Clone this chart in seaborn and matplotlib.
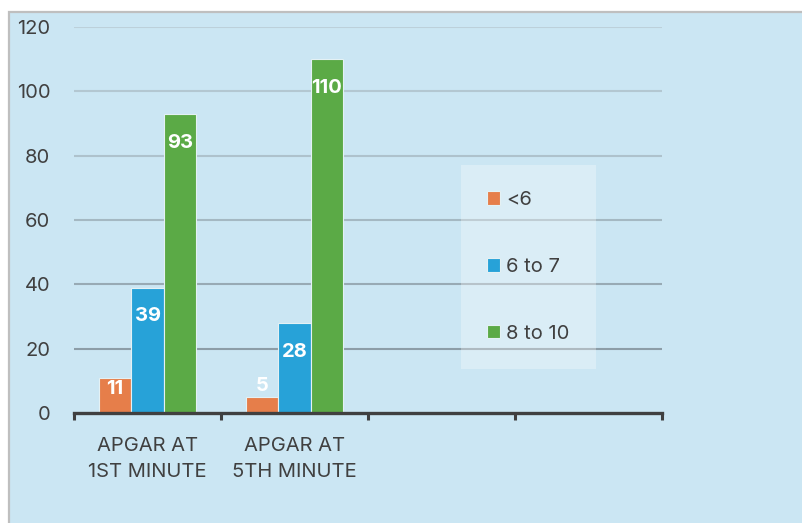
import matplotlib
matplotlib.use("Agg")
import matplotlib.pyplot as plt
from matplotlib.patches import Rectangle
import seaborn as sns
import pandas as pd

# Apgar score distribution
categories = ["APGAR AT\n1ST MINUTE", "APGAR AT\n5TH MINUTE"]
score_groups = ["<6", "6 to 7", "8 to 10"]
first_minute = [11, 39, 93]
fifth_minute = [5, 28, 110]
y_ticks = [0, 20, 40, 60, 80, 100, 120]

palette = ["#E67E4A", "#27A2D8", "#5BAA46"]
bg = "#CBE6F3"
text_color = "#404040"
n_slots = 4
fs = 14.5

df = pd.DataFrame({
    "category": [categories[0]] * 3 + [categories[1]] * 3,
    "group": score_groups * 2,
    "value": first_minute + fifth_minute,
})

sns.set_theme(style="white")
plt.rcParams["font.family"] = ["Inter", "DejaVu Sans"]

W, H = 803, 523
fig = plt.figure(figsize=(W / 100, H / 100), dpi=100)
fig.patch.set_facecolor("white")
fig.add_artist(Rectangle((9 / W, -0.05), 1.2, (H - 12) / H + 0.05,
                         transform=fig.transFigure, facecolor=bg,
                         edgecolor="#BFBFBF", linewidth=1.6, zorder=0))

ax = fig.add_axes([74 / W, (H - 413) / H, (662 - 74) / W, (413 - 27) / H])
ax.set_facecolor("none")

sns.barplot(data=df, x="category", y="value", hue="group", order=categories,
            hue_order=score_groups, palette=palette, width=0.66,
            errorbar=None, edgecolor="#E4F1F4", linewidth=0.8,
            saturation=1, ax=ax, zorder=3)

ax.set_xlim(-0.5, n_slots - 0.5)
ax.set_ylim(y_ticks[0], y_ticks[-1])
ax.set_yticks(y_ticks)

# Gridlines shade slightly darker toward the baseline
grid_colors = ["#8C9DA7", "#98AAB4", "#A4B8C2", "#AEC2CC", "#B3C7D1", "#BCD0DA"]
for yv, c in zip(y_ticks[1:], grid_colors):
    ax.axhline(yv, color=c, linewidth=1.5, zorder=1)

for side in ["top", "right", "left"]:
    ax.spines[side].set_visible(False)
ax.spines["bottom"].set_color(text_color)
ax.spines["bottom"].set_linewidth(2.4)
ax.spines["bottom"].set_zorder(4)

ax.set_xticks([i - 0.5 for i in range(n_slots + 1)], minor=True)
ax.tick_params(axis="x", which="minor", length=5, width=2.2, color=text_color,
               direction="out", bottom=True)
ax.tick_params(axis="x", which="major", length=0, pad=17,
               labelsize=fs, labelcolor=text_color)
ax.tick_params(axis="y", length=0, pad=17, labelsize=fs, labelcolor=text_color)
for lbl in ax.get_xticklabels():
    lbl.set_linespacing(1.6)
ax.set_xlabel("")
ax.set_ylabel("")

# Value labels near the top of each bar
for container in ax.containers:
    for bar, val in zip(container, container.datavalues):
        xc = bar.get_x() + bar.get_width() / 2
        if val >= 20:
            ax.text(xc, val - 6.2, f"{val:g}", ha="center", va="top",
                    color="white", fontsize=fs, fontweight="bold", zorder=5)
        elif val > 7:
            ax.text(xc, val - 0.6, f"{val:g}", ha="center", va="top",
                    color="white", fontsize=fs, fontweight="bold", zorder=5)
        else:
            ax.text(xc, val + 0.6, f"{val:g}", ha="center", va="bottom",
                    color="white", fontsize=fs, fontweight="bold", zorder=5)

handles, labels = ax.get_legend_handles_labels()
if ax.legend_:
    ax.legend_.remove()
leg = ax.legend(handles, labels, loc="upper left",
                bbox_to_anchor=(461 / W, 1 - 165 / H), bbox_transform=fig.transFigure,
                frameon=True, fancybox=False, facecolor="white", framealpha=0.3,
                edgecolor="none", fontsize=fs, labelcolor=text_color,
                handlelength=0.65, handleheight=0.65, handletextpad=0.3,
                labelspacing=2.42, borderpad=1.3, borderaxespad=0)
for h in leg.legend_handles:
    h.set_edgecolor("#E4F1F4")

fig.savefig("out.png", dpi=100)
